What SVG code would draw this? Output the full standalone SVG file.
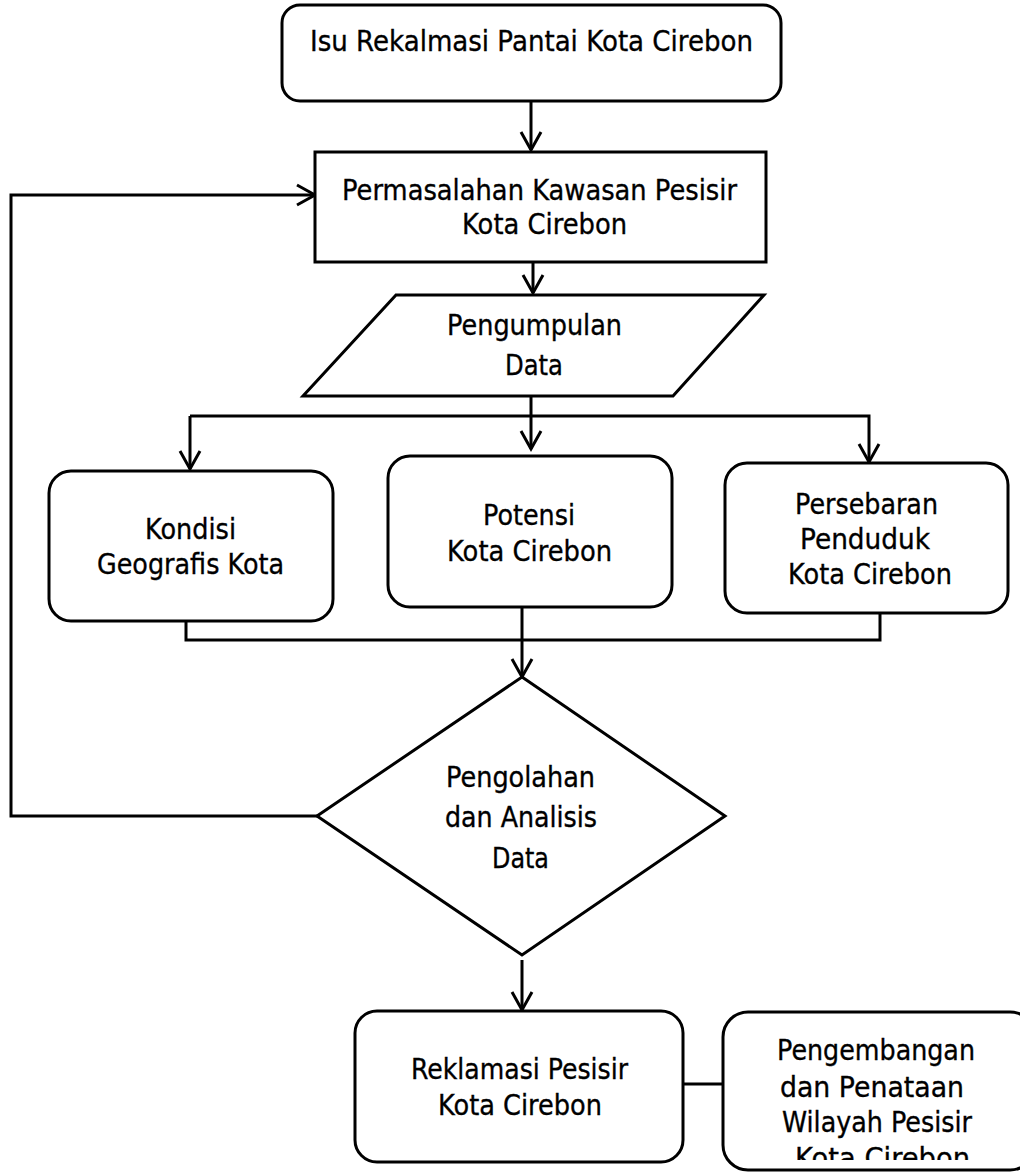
<svg xmlns="http://www.w3.org/2000/svg" width="1020" height="1172" viewBox="0 0 1020 1172">
<style>
.box{fill:#fff;stroke:#000;stroke-width:3}
.ln{fill:none;stroke:#000;stroke-width:3}
text{font-family:"DejaVu Sans","Liberation Sans",sans-serif;font-size:28px;fill:#000;stroke:#000;stroke-width:0.35;text-anchor:middle}
</style>
<defs>
<marker id="arr" markerUnits="userSpaceOnUse" markerWidth="26" markerHeight="26" viewBox="-22 -13 26 26" refX="0" refY="0" orient="auto">
<path d="M-18,-10 L0,0 L-18,10" fill="none" stroke="#000" stroke-width="3"/>
</marker>
<clipPath id="clipR"><rect x="723" y="1012" width="320" height="148"/></clipPath>
</defs>
<rect width="1020" height="1172" fill="#fff"/>

<g id="connectors">
<line class="ln" x1="531" y1="101" x2="531" y2="150" marker-end="url(#arr)"/>
<line class="ln" x1="533" y1="245" x2="533" y2="293" marker-end="url(#arr)"/>
<line class="ln" x1="531" y1="396" x2="531" y2="449" marker-end="url(#arr)"/>
<polyline class="ln" points="190,416 869,416 869,462" marker-end="url(#arr)"/>
<line class="ln" x1="190" y1="416" x2="190" y2="469" marker-end="url(#arr)"/>
<polyline class="ln" points="186,621 186,640 880,640 880,613"/>
<line class="ln" x1="522" y1="607" x2="522" y2="677" marker-end="url(#arr)"/>
<polyline class="ln" points="317,816 11,816 11,195 315,195" marker-end="url(#arr)"/>
<line class="ln" x1="522" y1="960" x2="522" y2="1010" marker-end="url(#arr)"/>
<line class="ln" x1="683" y1="1084" x2="723" y2="1084"/>
</g>

<g id="n-isu">
<rect class="box" x="282" y="5" width="499" height="96" rx="18"/>
<text x="531.5" y="51" font-size="30" textLength="443" lengthAdjust="spacingAndGlyphs">Isu Rekalmasi Pantai Kota Cirebon</text>
</g>

<g id="n-permasalahan">
<rect class="box" x="315" y="152" width="451" height="110"/>
<text x="539.5" y="200" textLength="395" lengthAdjust="spacingAndGlyphs">Permasalahan Kawasan Pesisir</text>
<text x="544.5" y="234" textLength="165" lengthAdjust="spacingAndGlyphs">Kota Cirebon</text>
</g>

<g id="n-pengumpulan">
<polygon class="box" points="396,295 764,295 673,396 303,396"/>
<text x="534.5" y="335" textLength="175" lengthAdjust="spacingAndGlyphs">Pengumpulan</text>
<text x="534" y="375" textLength="58" lengthAdjust="spacingAndGlyphs">Data</text>
</g>

<g id="n-kondisi">
<rect class="box" x="49" y="471" width="284" height="150" rx="22"/>
<text x="190.5" y="539" textLength="91" lengthAdjust="spacingAndGlyphs">Kondisi</text>
<text x="190.5" y="574" textLength="187" lengthAdjust="spacingAndGlyphs">Geografis Kota</text>
</g>

<g id="n-potensi">
<rect class="box" x="388" y="456" width="284" height="151" rx="22"/>
<text x="529" y="525" textLength="92" lengthAdjust="spacingAndGlyphs">Potensi</text>
<text x="529.5" y="561" textLength="165" lengthAdjust="spacingAndGlyphs">Kota Cirebon</text>
</g>

<g id="n-persebaran">
<rect class="box" x="725" y="463" width="283" height="150" rx="22"/>
<text x="866.5" y="514" textLength="143" lengthAdjust="spacingAndGlyphs">Persebaran</text>
<text x="865" y="549" textLength="130" lengthAdjust="spacingAndGlyphs">Penduduk</text>
<text x="870" y="584" textLength="164" lengthAdjust="spacingAndGlyphs">Kota Cirebon</text>
</g>

<g id="n-pengolahan">
<polygon class="box" points="522,677 725,816 522,955 317,816"/>
<text x="520.5" y="787" font-size="29" textLength="149" lengthAdjust="spacingAndGlyphs">Pengolahan</text>
<text x="521" y="827" font-size="29" textLength="152" lengthAdjust="spacingAndGlyphs">dan Analisis</text>
<text x="520.5" y="868" font-size="29" textLength="57" lengthAdjust="spacingAndGlyphs">Data</text>
</g>

<g id="n-reklamasi">
<rect class="box" x="355" y="1011" width="328" height="151" rx="22"/>
<text x="519.5" y="1079" textLength="217" lengthAdjust="spacingAndGlyphs">Reklamasi Pesisir</text>
<text x="520" y="1115" textLength="164" lengthAdjust="spacingAndGlyphs">Kota Cirebon</text>
</g>

<g id="n-pengembangan">
<rect class="box" x="723" y="1012" width="312" height="158" rx="25"/>
<g clip-path="url(#clipR)">
<text x="876" y="1060" textLength="198" lengthAdjust="spacingAndGlyphs">Pengembangan</text>
<text x="872" y="1097" textLength="184" lengthAdjust="spacingAndGlyphs">dan Penataan</text>
<text x="877" y="1132" textLength="190" lengthAdjust="spacingAndGlyphs">Wilayah Pesisir</text>
<text x="882.5" y="1168" textLength="175" lengthAdjust="spacingAndGlyphs">Kota Cirebon</text>
</g>
</g>
</svg>
